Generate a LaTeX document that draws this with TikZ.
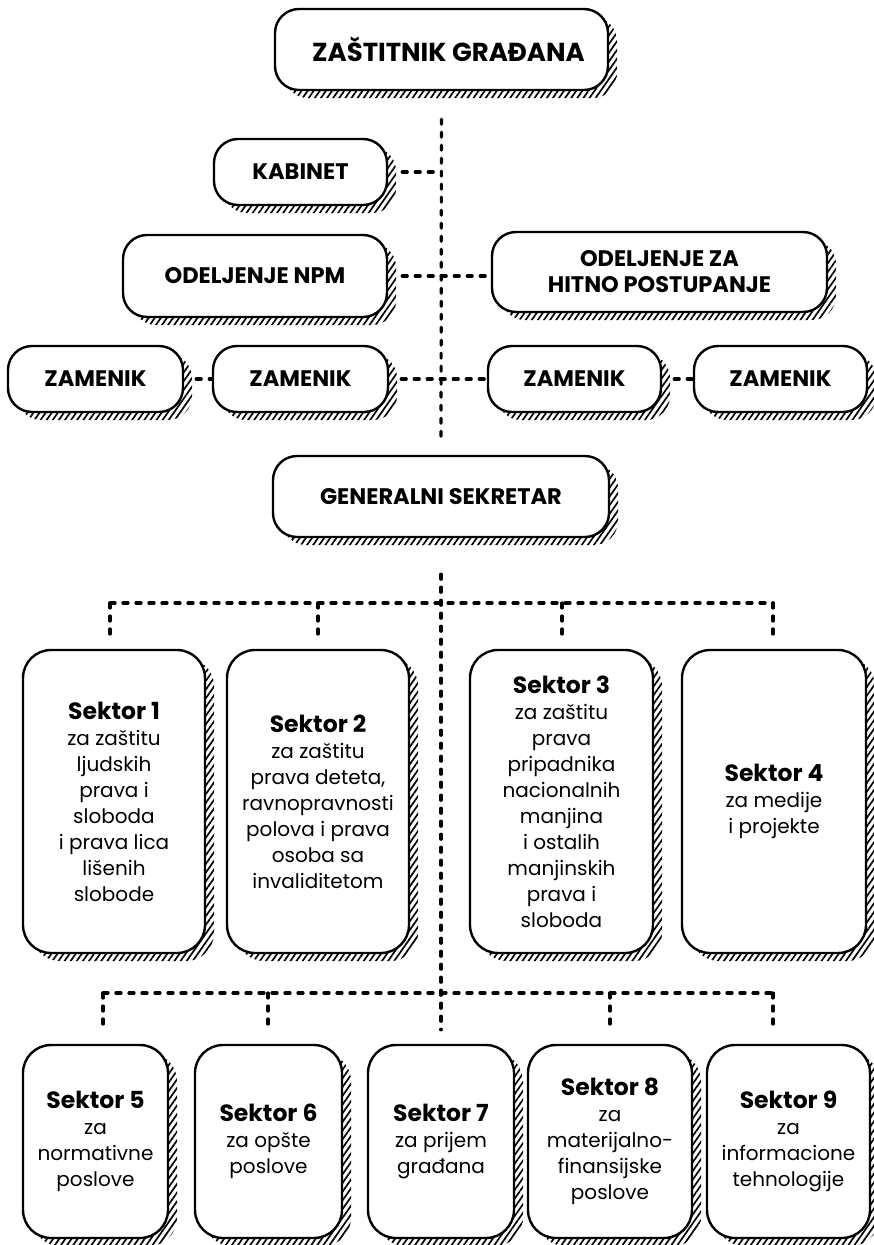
\documentclass[tikz,border=0pt]{standalone}
\usepackage{fontspec}
\setmainfont{Poppins}
\usepackage{tikz}
\usetikzlibrary{positioning, calc, shadows, patterns.meta}

\begin{document}
\begin{tikzpicture}[x=1pt, y=-1pt]
	\tikzstyle{office}=[draw=black, line width=2.4pt, rounded corners=24pt, fill=white, text=black, align=center, inner sep=0pt, font=\bfseries\fontsize{22.5}{26}\selectfont, general shadow={shadow xshift=9pt, shadow yshift=-8pt, pattern={Lines[angle=55, distance=5pt, line width=1.7pt]}}]
	\tikzstyle{sector}=[office, rounded corners=28pt, font=\fontsize{20}{26}\selectfont]
	\tikzstyle{link}=[draw=black, line width=3.2pt, line cap=round, dash pattern=on 5pt off 8pt]
	\newcommand{\sekt}[1]{{\bfseries\fontsize{23.5}{26}\selectfont #1}}
	
	\useasboundingbox (0,0) rectangle (874,1245);
	
	% top of the tree
	\node (zg) at (441.5,49.5) [office, minimum width=333pt, minimum height=81pt, font=\bfseries\fontsize{26}{30}\selectfont] {\hspace*{14pt}ZAŠTITNIK GRAĐANA};
	\node (kab) at (300.5,172) [office, minimum width=173pt, minimum height=66pt] {KABINET};
	\node (npm) at (255,276) [office, minimum width=264pt, minimum height=82pt] {ODELJENJE NPM};
	\node (hit) at (659.5,272) [office, minimum width=335pt, minimum height=80pt] {ODELJENJE ZA\\HITNO POSTUPANJE};
	
	\node (z1) at (95.5,379) [office, minimum width=175pt, minimum height=66pt] {ZAMENIK};
	\node (z2) at (300.5,379) [office, minimum width=175pt, minimum height=66pt] {ZAMENIK};
	\node (z3) at (574.5,379) [office, minimum width=173pt, minimum height=66pt] {ZAMENIK};
	\node (z4) at (780.5,379) [office, minimum width=173pt, minimum height=66pt] {ZAMENIK};
	
	\node (gs) at (441,496.5) [office, minimum width=336pt, minimum height=81pt] {GENERALNI SEKRETAR};
	
	% sektori 1-4
	\node (s1) at (114,801.5) [sector, minimum width=182pt, minimum height=303pt] {\sekt{Sektor 1}\\za zaštitu\\ljudskih\\prava i\\sloboda\\i prava lica\\lišenih\\slobode};
	\node (s2) at (318,801.5) [sector, minimum width=182pt, minimum height=303pt] {\sekt{Sektor 2}\\za zaštitu\\prava deteta,\\ravnopravnosti\\polova i prava\\osoba sa\\invaliditetom};
	\node (s3) at (561.5,801.5) [sector, minimum width=183pt, minimum height=303pt] {\sekt{Sektor 3}\\za zaštitu\\prava\\pripadnika\\nacionalnih\\manjina\\i ostalih\\manjinskih\\prava i\\sloboda};
	\node (s4) at (774,801.5) [sector, minimum width=184pt, minimum height=303pt] {\sekt{Sektor 4}\\za medije\\i projekte};
	
	% sektori 5-9
	\node (s5) at (95.5,1141.5) [sector, minimum width=145pt, minimum height=193pt] {\sekt{Sektor 5}\\za\\normativne\\poslove};
	\node (s6) at (268.5,1141.5) [sector, minimum width=147pt, minimum height=193pt] {\sekt{Sektor 6}\\za opšte\\poslove};
	\node (s7) at (441,1141.5) [sector, minimum width=146pt, minimum height=193pt] {\sekt{Sektor 7}\\za prijem\\građana};
	\node (s8) at (610,1141.5) [sector, minimum width=164pt, minimum height=193pt] {\sekt{Sektor 8}\\za\\materijalno-\\finansijske\\poslove};
	\node (s9) at (788.5,1141.5) [sector, minimum width=163pt, minimum height=193pt] {\sekt{Sektor 9}\\za\\informacione\\tehnologije};
	
	% veze
	\draw [link, shorten <=28pt, shorten >=11pt] (zg.south) -- (gs.north);
	\draw [link, shorten <=14pt] (kab.east) -- (kab.east -| gs.north);
	\draw [link, shorten <=14pt] (npm.east) -- (npm.east -| hit.west);
	\draw [link, shorten <=12pt] (z1.east) -- (z2.west);
	\draw [link, shorten <=12pt] (z2.east) -- (z3.west);
	\draw [link, shorten <=12pt] (z3.east) -- (z4.west);
	\draw [link, shorten <=36pt, shorten >=14pt] (gs.south) -- (s7.north);
	
	\foreach \x/\s in {110/s1, 318/s2, 562/s3, 773/s4} {
		\coordinate (t\s) at (\x,603);
		\draw [link, shorten >=9pt] (t\s) -- (t\s |- \s.north);
	}
	\draw [link] (ts1) -- (ts4);
	
	\foreach \x/\s in {103/s5, 268/s6, 610/s8, 773/s9} {
		\coordinate (t\s) at (\x,993);
		\draw [link, shorten >=14pt] (t\s) -- (t\s |- \s.north);
	}
	\draw [link] (ts5) -- (ts9);
	
\end{tikzpicture}
\end{document}
